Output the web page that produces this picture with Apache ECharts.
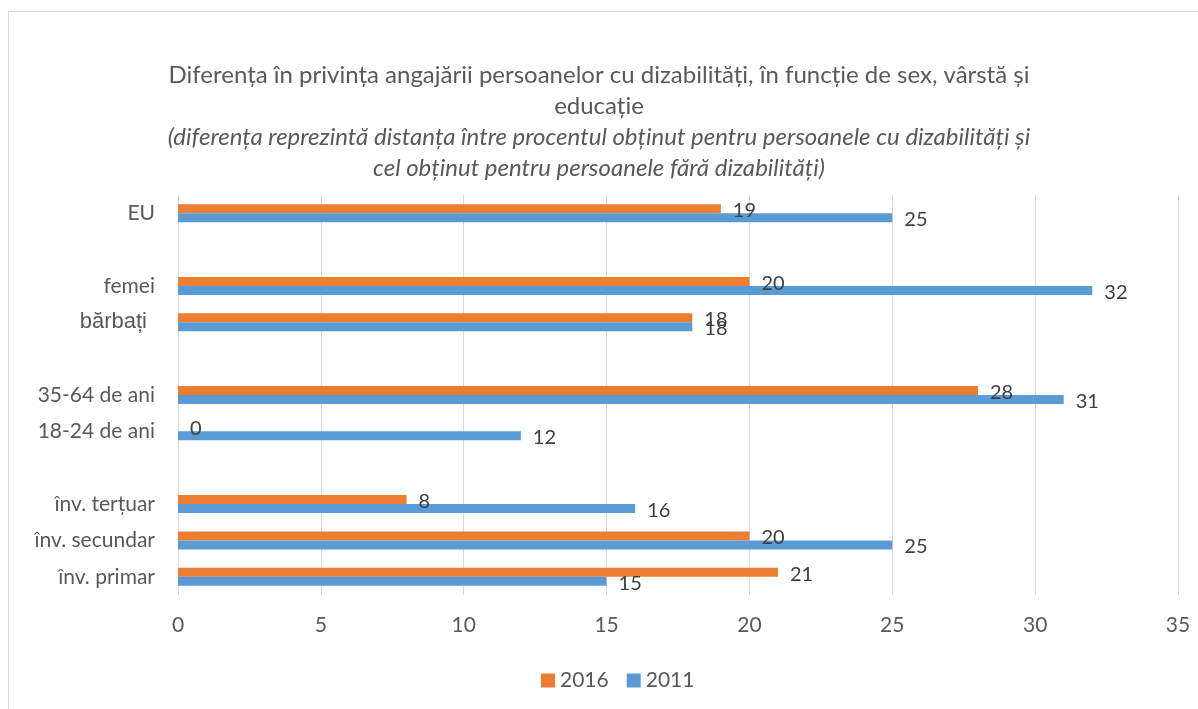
<!DOCTYPE html>
<html>
<head>
<meta charset="utf-8">
<script src="https://cdn.jsdelivr.net/npm/echarts@6/dist/echarts.min.js"></script>
<style>
  html, body { margin: 0; padding: 0; background: #fff; }
  #main { width: 1198px; height: 709px; }
</style>
</head>
<body>
<div id="main"></div>
<script>
// categories top to bottom, empty strings are the gaps between groups
var categories = ['EU', '', 'femei', 'bărbați', '', '35-64 de ani', '18-24 de ani', '', 'înv. terțuar', 'înv. secundar', 'înv. primar'];
var values2016 = [19, null, 20, 18, null, 28, 0, null, 8, 20, 21];
var values2011 = [25, null, 32, 18, null, 31, 12, null, 16, 25, 15];
var xTicks = [0, 5, 10, 15, 20, 25, 30, 35];

var myChart = echarts.init(document.getElementById('main'));

var font = 'Lato, "Open Sans", sans-serif';

var labelStyle = {
    show: true,
    position: 'right',
    distance: 12,
    fontSize: 20,
    fontFamily: font,
    color: '#404040',
    offset: [0, 2]
};

myChart.setOption({
    backgroundColor: '#fff',
    animation: false,
    graphic: [{
        type: 'rect',
        shape: { x: 8.5, y: 11.5, width: 1220, height: 720 },
        style: { fill: 'none', stroke: '#d9d9d9', lineWidth: 1 },
        silent: true
    }],
    title: {
        text: 'Diferența în privința angajării persoanelor cu dizabilități, în funcție de sex, vârstă și\neducație',
        subtext: '(diferența reprezintă distanța între procentul obținut pentru persoanele cu dizabilități și\ncel obținut pentru persoanele fără dizabilități)',
        left: 'center',
        top: 55,
        itemGap: 0,
        textStyle: {
            fontFamily: font,
            fontWeight: 'normal',
            fontSize: 24,
            lineHeight: 31,
            color: '#595959'
        },
        subtextStyle: {
            fontFamily: font,
            fontStyle: 'italic',
            fontSize: 24,
            lineHeight: 31,
            color: '#595959'
        }
    },
    legend: {
        data: ['2016', '2011'],
        bottom: 13,
        left: 536,
        itemWidth: 14,
        itemHeight: 14,
        itemGap: 18,
        icon: 'rect',
        textStyle: { fontFamily: font, fontSize: 21, color: '#595959' }
    },
    grid: {
        left: 178,
        right: 20,
        top: 195,
        bottom: 114,
        containLabel: false
    },
    xAxis: {
        type: 'value',
        min: 0,
        max: 35,
        interval: 5,
        axisLine: { show: false },
        axisTick: { show: false },
        axisLabel: {
            margin: 20,
            fontFamily: font,
            fontSize: 21,
            color: '#595959',
            formatter: function (v) { return xTicks.indexOf(v) >= 0 ? String(v) : ''; }
        },
        splitLine: { show: true, lineStyle: { color: '#d9d9d9', width: 1 } }
    },
    yAxis: {
        type: 'category',
        data: categories,
        inverse: true,
        axisLine: { show: false },
        axisTick: { show: false },
        axisLabel: {
            margin: 23,
            fontFamily: font,
            fontSize: 21,
            color: '#595959',
            formatter: function (v) {
                if (v === 'bărbați') return '{b|' + v + '}';
                return v;
            },
            rich: {
                b: {
                    fontFamily: '"Liberation Sans", Arial, sans-serif',
                    fontSize: 22,
                    color: '#595959',
                    padding: [0, 8, 0, 0]
                }
            }
        }
    },
    series: [{
        name: '2016',
        type: 'bar',
        data: values2016,
        barWidth: 9,
        barGap: '0%',
        itemStyle: { color: '#ed7d31' },
        label: labelStyle,
        z: 2
    }, {
        name: '2011',
        type: 'bar',
        data: values2011,
        barWidth: 9,
        barGap: '0%',
        itemStyle: { color: '#5b9bd5' },
        label: labelStyle,
        z: 2
    }]
});
</script>
</body>
</html>
